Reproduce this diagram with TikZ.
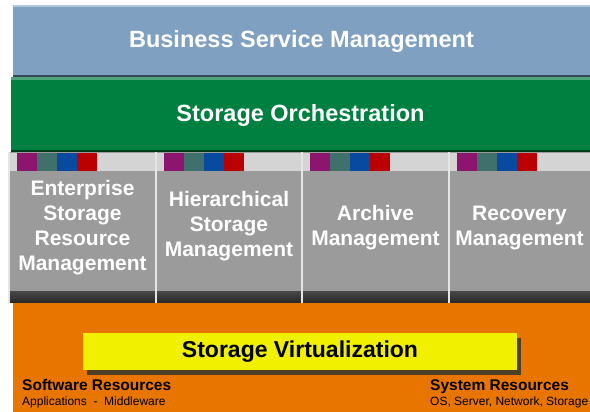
\documentclass[tikz,border=0pt]{standalone}
\usepackage{fontspec}
\setmainfont{Liberation Sans}
\usetikzlibrary{positioning,shadows}

\definecolor{bsmblue}{RGB}{127,160,192}
\definecolor{orchgreen}{RGB}{0,128,64}
\definecolor{colgray}{RGB}{155,155,155}
\definecolor{stripgray}{RGB}{212,212,212}
\definecolor{baseorange}{RGB}{232,117,0}
\definecolor{virtyellow}{RGB}{240,240,0}
\definecolor{sqpurple}{RGB}{140,22,110}
\definecolor{sqteal}{RGB}{64,112,108}
\definecolor{sqblue}{RGB}{8,74,160}
\definecolor{sqred}{RGB}{186,0,0}

\begin{document}
\begin{tikzpicture}[x=1pt,y=1pt,
    band/.style={anchor=south west, inner sep=0pt, outer sep=0pt},
    title/.style={text=white, font=\fontsize{23.5}{28}\selectfont\bfseries},
    coltext/.style={text=white, align=center, inner sep=0pt,
        font=\fontsize{21}{25}\selectfont\bfseries},
    virtbox/.style={fill=virtyellow, inner sep=0pt, minimum width=434pt,
        minimum height=37pt, font=\fontsize{23}{28}\selectfont\bfseries,
        drop shadow={shadow xshift=4pt, shadow yshift=-5pt, fill=black!75!olive, opacity=.9}},
    restitle/.style={anchor=base west, inner sep=0pt, font=\fontsize{15.5}{18}\selectfont\bfseries},
    ressub/.style={anchor=base west, inner sep=0pt, font=\fontsize{12}{14}\selectfont}]
    \useasboundingbox (0,0) rectangle (590,412);

    % top bands
    \node[band, fill=bsmblue, minimum width=577pt, minimum height=72pt] (bsm) at (13,335) {};
    \fill[bsmblue!60!white] (bsm.north west) rectangle ++(577,-2);
    \fill[bsmblue!45!black] (bsm.south west) rectangle ++(577,2);
    \node[title] (bsmtext) at (bsm.center) {Business Service Management};

    \node[band, fill=orchgreen, minimum width=579pt, minimum height=76pt] (orch) at (11,259) {};
    \fill[orchgreen!70!white] (orch.north west) rectangle ++(579,-3);
    \fill[orchgreen!45!black] (orch.south west) rectangle ++(579,3);
    \node[title] (orchtext) at (orch.center) {Storage Orchestration};

    % management columns
    \foreach \name/\x/\w in {esrm/9/147, hsm/156/146, arch/302/147, recov/449/141} {
        \node[band, fill=colgray, minimum width=\w pt, minimum height=151pt] (\name) at (\x,109) {};
        \fill[stripgray] (\x,241) rectangle ++(\w,18);
        \foreach \c [count=\i from 0] in {sqpurple,sqteal,sqblue,sqred}
            \fill[\c] (\x+7.5+20*\i,241) rectangle ++(20,18);
        \shade[top color=colgray!45!black, bottom color=black!85] (\x,109) rectangle ++(\w,11);
        \draw[white!80!gray, line width=1.2pt] (\name.south west) -- (\name.north west);
    }

    \node[coltext] (esrmtext) at ([yshift=-0.5pt]esrm.center) {Enterprise\\Storage\\Resource\\Management};
    \node[coltext] (hsmtext) at ([yshift=1.5pt]hsm.center) {Hierarchical\\Storage\\Management};
    \node[coltext] (archtext) at ([yshift=-0.5pt]arch.center) {Archive\\Management};
    \node[coltext] (recovtext) at ([yshift=-0.5pt]recov.center) {Recovery\\Management};

    % resources
    \node[band, fill=baseorange, minimum width=577pt, minimum height=109pt] (base) at (13,0) {};
    \node[virtbox] (virt) at (300,60.5) {Storage Virtualization};

    \node[restitle] (sw) at (22,21) {Software Resources};
    \node[ressub] (swsub) at (22,6) {Applications\ \ -\ \ Middleware};
    \node[restitle] (sys) at (430,21) {System Resources};
    \node[ressub] (syssub) at (430,6) {OS, Server, Network, Storage};

\end{tikzpicture}
\end{document}
